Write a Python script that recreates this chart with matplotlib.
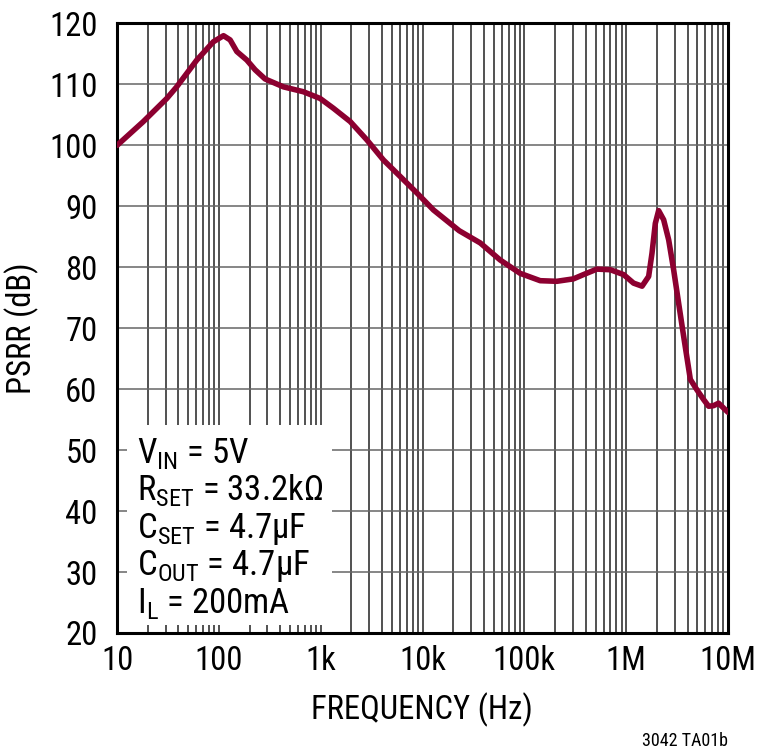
import matplotlib
matplotlib.use("Agg")
import matplotlib.pyplot as plt
from matplotlib.patches import Rectangle
from matplotlib.ticker import FixedLocator, NullFormatter

# PSRR vs frequency
freq_hz = [10, 18.1, 30.8, 38.5, 60.7, 88.3, 111, 129, 150, 188, 227, 284,
           431, 676, 986, 1330, 1950, 2840, 4130, 6030, 8790, 12800, 22900,
           36800, 57800, 91000, 143000, 208000, 303000, 380000, 515000,
           697000, 942000, 1180000, 1430000, 1660000, 1790000, 1930000,
           2080000, 2330000, 2610000, 2920000, 3270000, 3660000, 4260000,
           4940000, 5750000, 6440000, 7210000, 8070000, 9040000, 10000000]
psrr_db = [100.0, 103.9, 107.7, 109.6, 114.0, 117.0, 118.0, 117.3, 115.4,
           114.0, 112.4, 110.9, 109.6, 108.8, 107.7, 106.1, 103.9, 100.9,
           97.6, 94.9, 92.2, 89.4, 86.0, 84.0, 81.2, 79.0, 77.8, 77.7, 78.1,
           78.8, 79.7, 79.6, 78.8, 77.4, 76.9, 78.5, 82.3, 87.2, 89.3, 87.8,
           84.5, 79.6, 74.1, 68.7, 61.6, 59.9, 58.3, 57.2, 57.3, 57.7, 56.9,
           56.2]

x_ticks = [10, 100, 1e3, 1e4, 1e5, 1e6, 1e7]
x_labels = ["10", "100", "1k", "10k", "100k", "1M", "10M"]
y_ticks = list(range(20, 121, 10))
notes = [r"V$_\mathregular{IN}$ = 5V",
         r"R$_\mathregular{SET}$ = 33.2kΩ",
         r"C$_\mathregular{SET}$ = 4.7μF",
         r"C$_\mathregular{OUT}$ = 4.7μF",
         r"I$_\mathregular{L}$ = 200mA"]

fonts = ["Roboto Condensed", "DejaVu Sans"]
plt.rcParams["font.family"] = fonts
plt.rcParams["mathtext.fontset"] = "custom"
plt.rcParams["mathtext.rm"] = "Roboto Condensed"

fig = plt.figure(figsize=(7.6, 7.55), dpi=100)
ax = fig.add_axes([0.154, 0.1616, 0.804, 0.8073])

ax.set_xscale("log")
ax.set_xlim(10, 1e7)
ax.set_ylim(20, 120)

minor = [m * 10 ** d for d in range(1, 7) for m in range(2, 10)]
ax.xaxis.set_major_locator(FixedLocator(x_ticks))
ax.xaxis.set_minor_locator(FixedLocator(minor))
ax.xaxis.set_minor_formatter(NullFormatter())
ax.set_xticks(x_ticks)
ax.set_xticklabels(x_labels)
ax.set_yticks(y_ticks)

ax.grid(True, which="both", axis="x", color="#222222", linewidth=1.1)
ax.grid(True, which="major", axis="y", color="#666666", linewidth=1.1)
ax.tick_params(which="both", length=0)
ax.tick_params(axis="x", labelsize=23.5, pad=9)
ax.tick_params(axis="y", labelsize=23.5, pad=14)
for s in ax.spines.values():
    s.set_linewidth(2.2)

ax.plot(freq_hz, psrr_db, color="#8c0030", linewidth=4.0,
        solid_joinstyle="round", solid_capstyle="round", zorder=5)

# white box behind the conditions text
ax.add_patch(Rectangle((0.016, 0.013), 0.336, 0.328, transform=ax.transAxes,
                       facecolor="white", edgecolor="none", zorder=3))
for i, t in enumerate(notes):
    ax.text(0.032, 0.279 - i * 0.0615, t, transform=ax.transAxes,
            fontsize=25, va="baseline", ha="left", zorder=4)

fig.text(0.555, 0.06, "FREQUENCY (Hz)", fontsize=23.5, ha="center", va="center")
fig.text(0.028, 0.565, "PSRR (dB)", fontsize=23.5, ha="center", va="center",
         rotation=90)
fig.text(0.958, 0.018, "3042 TA01b", fontsize=13, ha="right", va="center")

fig.savefig("out.png", dpi=100)
